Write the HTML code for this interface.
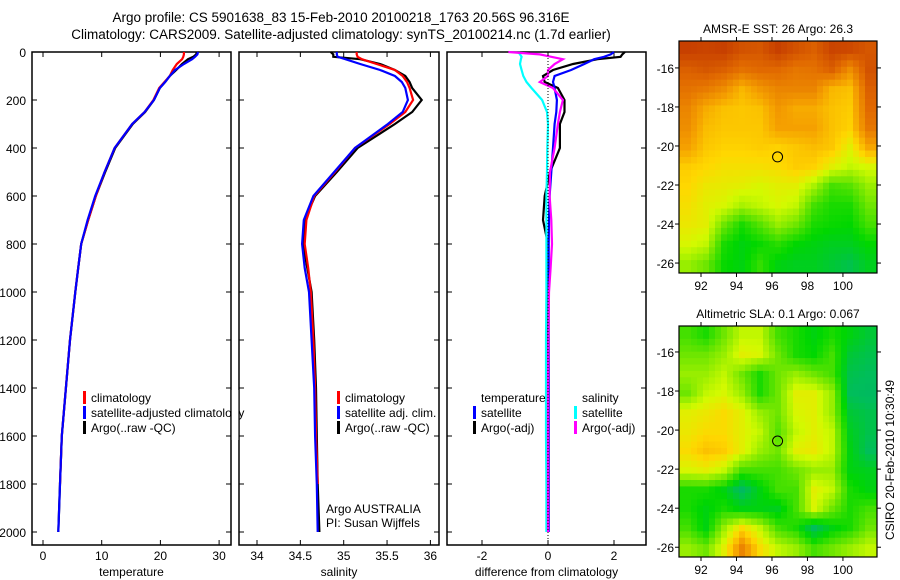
<!DOCTYPE html>
<html><head><meta charset="utf-8"><style>
body{margin:0;background:#fff;width:900px;height:580px;overflow:hidden}
svg{display:block;font-family:"Liberation Sans",sans-serif}
</style></head><body>
<svg id="fig" width="900" height="580"></svg>
<script>
const depths=[0,10,20,30,50,75,100,125,150,200,250,300,400,500,600,700,800,900,1000,1200,1400,1600,1800,2000];
const tempArgo=[26.2,26.1,25.6,24.7,23.7,22.7,21.6,20.8,19.9,18.9,17.4,15.3,12.3,10.6,9.0,7.7,6.5,6.0,5.5,4.6,3.9,3.2,2.9,2.6];
const tempClim=[24.0,24.0,23.9,23.7,22.8,22.1,21.6,20.7,19.8,18.8,17.3,15.2,12.2,10.5,9.0,7.7,6.5,6.0,5.5,4.6,3.9,3.2,2.9,null];
const tempSat=[26.4,26.3,25.9,25.4,24.0,22.5,21.6,20.8,19.9,18.9,17.3,15.2,12.2,10.5,8.9,7.6,6.5,6.0,5.5,4.6,3.9,3.2,2.9,2.6];
const salArgo=[34.85,34.88,34.88,35.19,35.42,35.59,35.71,35.76,35.79,35.90,35.79,35.59,35.16,34.92,34.67,34.55,34.53,34.58,34.63,34.66,34.68,34.69,34.70,34.72];
const salClim=[35.15,35.15,35.16,35.21,35.38,35.59,35.68,35.73,35.76,35.80,35.71,35.53,35.13,34.90,34.66,34.57,34.55,34.59,34.62,34.65,34.67,34.68,34.70,null];
const salSat=[34.92,34.92,34.93,35.02,35.19,35.42,35.59,35.67,35.71,35.74,35.68,35.51,35.13,34.89,34.65,34.54,34.52,34.55,34.60,34.63,34.66,34.67,34.69,34.70];
const dTempSat=[2.0,1.9,1.7,1.4,1.1,0.7,0.2,0.15,0.2,0.27,0.25,0.2,0.15,0.1,0.05,0.03,0.02,0.02,0.02,0.02,0.02,0.02,0.02,0.02];
const dTempArgo=[2.33,2.25,2.2,1.5,0.76,0.15,-0.15,-0.1,0.3,0.5,0.5,0.36,0.36,0.06,-0.1,-0.15,0,-0.02,-0.03,-0.02,-0.02,-0.03,-0.02,-0.03];
const dSalSat=[-0.9,-0.85,-0.8,-0.82,-0.85,-0.8,-0.75,-0.65,-0.5,-0.18,-0.03,0,-0.02,-0.03,-0.05,-0.05,-0.05,-0.05,-0.05,-0.06,-0.06,-0.06,-0.05,-0.05];
const dSalArgo=[-1.2,-0.25,0.1,0.45,0.2,0,0,-0.25,0.15,0.45,0.36,0.3,0.2,0.06,0.05,0.1,0.12,0.08,0.03,0.01,0,0,0,0];
const depthTicks=[0,200,400,600,800,1000,1200,1400,1600,1800,2000];
const tempTicks=[0,10,20,30];
const salTicks=[34,34.5,35,35.5,36];
const diffTicks=[-2,0,2];
const lonTicks=[92,94,96,98,100];
const latTicks=[-16,-18,-20,-22,-24,-26];
const sstGrid=[
[.97,.96,.97,.93,.92,.97,.93,.9,.96,.95,.92],
[.9,.92,.9,.86,.88,.88,.85,.86,.9,.8,.93],
[.86,.84,.8,.72,.78,.82,.82,.82,.72,.7,.9],
[.82,.74,.7,.69,.7,.78,.74,.74,.7,.68,.88],
[.8,.71,.69,.69,.69,.76,.76,.76,.7,.67,.85],
[.76,.69,.67,.67,.68,.67,.69,.71,.69,.6,.75],
[.68,.66,.64,.64,.64,.65,.68,.67,.6,.55,.58],
[.66,.62,.61,.6,.58,.6,.6,.52,.4,.42,.5],
[.64,.6,.58,.52,.55,.58,.55,.4,.35,.35,.45],
[.62,.6,.45,.35,.42,.5,.45,.35,.33,.32,.4],
[.58,.55,.35,.3,.33,.37,.32,.3,.28,.28,.32],
[.5,.45,.33,.3,.38,.3,.28,.28,.25,.22,.28]];
const slaGrid=[
[.4,.35,.45,.55,.55,.4,.35,.3,.35,.3,.25],
[.45,.45,.5,.6,.58,.45,.35,.32,.4,.25,.22],
[.5,.5,.55,.45,.35,.45,.5,.45,.4,.22,.2],
[.45,.55,.58,.5,.35,.45,.6,.6,.5,.2,.18],
[.6,.62,.65,.6,.5,.45,.58,.6,.5,.25,.22],
[.62,.65,.65,.6,.55,.42,.55,.6,.55,.28,.22],
[.65,.7,.68,.6,.5,.45,.6,.62,.55,.3,.2],
[.58,.6,.55,.4,.4,.4,.45,.5,.5,.3,.28],
[.35,.35,.3,.18,.3,.4,.4,.6,.55,.35,.3],
[.35,.3,.35,.3,.3,.28,.4,.58,.45,.35,.4],
[.4,.3,.5,.65,.55,.4,.35,.2,.3,.35,.45],
[.5,.45,.6,.82,.65,.55,.5,.4,.45,.5,.55]];
const argoLon=96.316, argoLat=-20.56;

const NS='http://www.w3.org/2000/svg', svg=document.getElementById('fig');
function mk(tag,at,parent){const e=document.createElementNS(NS,tag);for(const k in at)e.setAttribute(k,at[k]);(parent||svg).appendChild(e);return e;}
function txt(s,x,y,anchor,size,parent){const t=mk('text',{x:x,y:y,'text-anchor':anchor||'start','font-size':size||12,fill:'#000'},parent);t.textContent=s;return t;}
const yD=d=>52+0.24*d;

function panel(name,x0,x1,xf,ticks,label,series,showY){
  const g=mk('g',{});
  
  
  const fr=mk('rect',{x:x0,y:52,width:x1-x0,height:493,fill:'none',stroke:'#000','stroke-width':1.5},g);
  
  
  depthTicks.forEach(d=>{const y=yD(d);
    mk('line',{x1:x0,x2:x0+5,y1:y,y2:y,stroke:'#000'},g);
    mk('line',{x1:x1-5,x2:x1,y1:y,y2:y,stroke:'#000'},g);
    if(showY){const t=txt(String(d),x0-6,y+5,'end',12,g);
      
      }
  });
  ticks.forEach(v=>{const x=xf(v);
    mk('line',{x1:x,x2:x,y1:545,y2:540,stroke:'#000'},g);
    mk('line',{x1:x,x2:x,y1:52,y2:57,stroke:'#000'},g);
    const t=txt(String(v),x,560,'middle',12,g);
    
    
  });
  const xl=txt(label,(x0+x1)/2,576,'middle',12,g);
  
  
  series.forEach(s=>{
    let pts=[];depths.forEach((d,i)=>{if(s.v[i]!==null)pts.push(xf(s.v[i]).toFixed(1)+','+yD(d).toFixed(1));});
    const p=mk('polyline',{points:pts.join(' '),fill:'none',stroke:s.c,'stroke-width':2.2},g);
    
    
  });
  return g;
}
const xT=v=>43+5.87*v, xS=v=>257+86.7*(v-34), xF=v=>548+33*v;
panel('temperature',32,231,xT,tempTicks,'temperature',[
 {n:'temp-argo-line',c:'#000',v:tempArgo},{n:'temp-climatology-line',c:'#f00',v:tempClim},{n:'temp-satellite-line',c:'#00f',v:tempSat}],true);
panel('salinity',239,439,xS,salTicks,'salinity',[
 {n:'sal-argo-line',c:'#000',v:salArgo},{n:'sal-climatology-line',c:'#f00',v:salClim},{n:'sal-satellite-line',c:'#00f',v:salSat}],false);
const dg=panel('difference',447,646,xF,diffTicks,'difference from climatology',[
 {n:'dtemp-argo-line',c:'#000',v:dTempArgo},{n:'dtemp-satellite-line',c:'#00f',v:dTempSat},{n:'dsal-satellite-line',c:'#0ff',v:dSalSat},{n:'dsal-argo-line',c:'#f0f',v:dSalArgo}],false);
const zl=mk('line',{x1:548,x2:548,y1:52,y2:545,stroke:'#000','stroke-dasharray':'1,2'},dg);



function legend(x,y,items,name){
  items.forEach((it,i)=>{
    if(it.c){const m=mk('rect',{x:x,y:y+i*15-11,width:3,height:13,fill:it.c});
      
      }
    const t=txt(it.t,x+8,y+i*15,'start',12);
    
    
  });
}
legend(83,402,[{c:'#f00',t:'climatology'},{c:'#00f',t:'satellite-adjusted climatology'},{c:'#000',t:'Argo(..raw -QC)'}],'temp-legend-entry');
legend(337,402,[{c:'#f00',t:'climatology'},{c:'#00f',t:'satellite adj. clim.'},{c:'#000',t:'Argo(..raw -QC)'}],'sal-legend-entry');
legend(473,402,[{c:null,t:'temperature'},{c:'#00f',t:'satellite'},{c:'#000',t:'Argo(-adj)'}],'diff-temp-legend-entry');
legend(574,402,[{c:null,t:'salinity'},{c:'#0ff',t:'satellite'},{c:'#f0f',t:'Argo(-adj)'}],'diff-sal-legend-entry');
const cv=mk('rect',{x:231.8,y:390,width:6.5,height:50,fill:'#fff'});


[['Argo AUSTRALIA',513],['PI: Susan Wijffels',527]].forEach(a=>{const t=txt(a[0],326,a[1]);
 
 });

[['Argo profile: CS 5901638_83 15-Feb-2010 20100218_1763 20.56S 96.316E',22],
 ['Climatology: CARS2009. Satellite-adjusted climatology: synTS_20100214.nc (1.7d earlier)',39]].forEach(a=>{
 const t=txt(a[0],341,a[1],'middle',13.5);
 
 });

function cmap(v){
  const stops=[[0,[0,150,140]],[0.2,[0,190,90]],[0.32,[0,215,0]],[0.45,[110,230,0]],[0.57,[210,250,0]],[0.66,[255,215,0]],[0.76,[245,160,0]],[0.88,[225,105,0]],[1,[190,50,0]]];
  v=Math.max(0,Math.min(1,v));
  for(let i=1;i<stops.length;i++){if(v<=stops[i][0]){const a=stops[i-1],b=stops[i],t=(v-a[0])/(b[0]-a[0]);
    return 'rgb('+a[1].map((c,k)=>Math.round(c+(b[1][k]-c)*t)).join(',')+')';}}
  return 'rgb(190,50,0)';
}
function sample(grid,fr,fc){
  const R=grid.length-1,C=grid[0].length-1;
  fr=Math.max(0,Math.min(R,fr));fc=Math.max(0,Math.min(C,fc));
  const r0=Math.floor(fr),c0=Math.floor(fc),r1=Math.min(R,r0+1),c1=Math.min(C,c0+1),tr=fr-r0,tc=fc-c0;
  return (grid[r0][c0]*(1-tc)+grid[r0][c1]*tc)*(1-tr)+(grid[r1][c0]*(1-tc)+grid[r1][c1]*tc)*tr;
}
function map(name,title,grid,top,bot,lat0,lat1){
  const L=679,R=877,lon0=90.76,lon1=101.92;
  const xL=v=>L+(v-lon0)/(lon1-lon0)*(R-L), yL=v=>top+(lat0-v)/(lat0-lat1)*(bot-top);
  const g=mk('g',{});
  
  
  const rows=grid.length,cols=grid[0].length,up=3,nr=rows*up,nc=cols*up,cw=(R-L)/nc,ch=(bot-top)/nr;
  for(let r=0;r<nr;r++)for(let c=0;c<nc;c++){
    const v=sample(grid,(r+0.5)/up-0.5,(c+0.5)/up-0.5);
    const cell=mk('rect',{x:L+c*cw,y:top+r*ch,width:cw+0.4,height:ch+0.4,fill:cmap(v)},g);
    
    
  }
  mk('rect',{x:L,y:top,width:R-L,height:bot-top,fill:'none',stroke:'#000','stroke-width':1.2},g);
  lonTicks.forEach(v=>{const x=xL(v);mk('line',{x1:x,x2:x,y1:top,y2:top-4,stroke:'#000'},g);mk('line',{x1:x,x2:x,y1:bot,y2:bot+4,stroke:'#000'},g);
    const t=txt(String(v),x,bot+17,'middle',12,g);
    
    });
  latTicks.forEach(v=>{const y=yL(v);mk('line',{x1:L,x2:L-4,y1:y,y2:y,stroke:'#000'},g);mk('line',{x1:R,x2:R+4,y1:y,y2:y,stroke:'#000'},g);
    const t=txt(String(v),L-5,y+5,'end',12,g);
    
    });
  const c=mk('circle',{cx:xL(argoLon),cy:yL(argoLat),r:5,fill:'none',stroke:'#000','stroke-width':1},g);
  
  
  const t=txt(title,(L+R)/2,top-8,'middle',12,g);
  
  
}
map('sst-map','AMSR-E SST: 26 Argo: 26.3',sstGrid,41,273,-14.62,-26.51);
map('sla-map','Altimetric SLA: 0.1 Argo: 0.067',slaGrid,326,557,-14.67,-26.5);
const st=txt('CSIRO 20-Feb-2010 10:30:49',0,0,'middle',12);
st.setAttribute('transform','translate(894,460) rotate(-90)');


</script>
</body></html>
